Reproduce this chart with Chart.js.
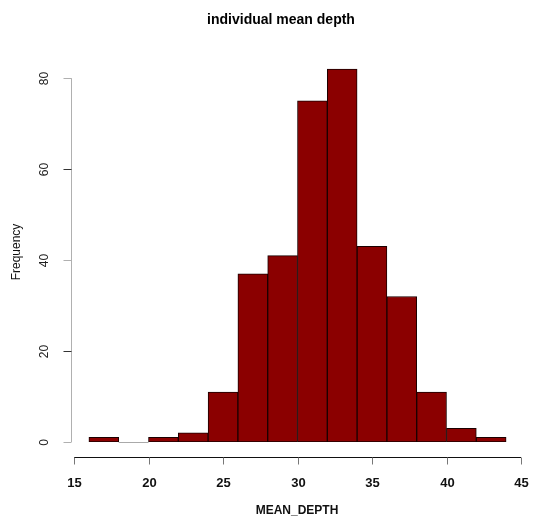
<!DOCTYPE html>
<html>
<head>
<meta charset="utf-8">
<script src="https://cdn.jsdelivr.net/npm/chart.js@4"></script>
<style>
  html, body { margin: 0; padding: 0; background: #fff; }
  #wrap { width: 554px; height: 519px; }
</style>
</head>
<body>
<div id="wrap"><canvas id="myChart" width="554" height="519"></canvas></div>
<script>
// histogram bins (width 2) and counts
const binStarts = [16, 18, 20, 22, 24, 26, 28, 30, 32, 34, 36, 38, 40, 42]
const counts = [1, 0, 1, 2, 11, 37, 41, 75, 82, 43, 32, 11, 3, 1]
const xTicks = [15, 20, 25, 30, 35, 40, 45]
const yTicks = [0, 20, 40, 60, 80]

const mainTitle = 'individual mean depth'
const xTitle = 'MEAN_DEPTH'
const yTitle = 'Frequency'

const barData = binStarts.map((b, i) => ({ x: b + 1, y: counts[i] }))

// R-style detached axes, drawn from the chart's own scales
const rAxes = {
    id: 'rAxes',
    afterDraw(chart) {
        const c = chart.ctx
        const xs = chart.scales.x
        const ys = chart.scales.y
        c.save()

        // zero-count bins get a baseline like R does
        const meta = chart.getDatasetMeta(0)
        c.strokeStyle = '#aaaaaa'
        c.lineWidth = 1
        meta.data.forEach((el, i) => {
            if (counts[i] === 0) {
                const y0 = Math.round(ys.getPixelForValue(0)) + 0.5
                c.beginPath()
                c.moveTo(el.x - el.width / 2, y0)
                c.lineTo(el.x + el.width / 2, y0)
                c.stroke()
            }
        })

        // y axis
        const ax = 71.5
        c.strokeStyle = '#b0b0b0'
        c.beginPath()
        c.moveTo(ax, ys.getPixelForValue(yTicks[0]))
        c.lineTo(ax, ys.getPixelForValue(yTicks[yTicks.length - 1]))
        c.stroke()
        c.fillStyle = '#222'
        c.font = '12px "Liberation Sans", Arial, sans-serif'
        c.textAlign = 'center'
        c.textBaseline = 'middle'
        yTicks.forEach(t => {
            const py = Math.round(ys.getPixelForValue(t)) + 0.5
            c.strokeStyle = (t === 20 || t === 60) ? '#333' : '#b0b0b0'
            c.beginPath()
            c.moveTo(ax, py)
            c.lineTo(ax - 8, py)
            c.stroke()
            c.save()
            c.translate(45, py)
            c.rotate(-Math.PI / 2)
            c.fillText(String(t), 0, 0)
            c.restore()
        })

        // x axis
        const ay = 457.5
        c.strokeStyle = '#111'
        c.beginPath()
        c.moveTo(xs.getPixelForValue(xTicks[0]), ay)
        c.lineTo(xs.getPixelForValue(xTicks[xTicks.length - 1]), ay)
        c.stroke()
        c.font = 'bold 13px "Liberation Sans", Arial, sans-serif'
        c.fillStyle = '#111'
        xTicks.forEach(t => {
            const px = Math.round(xs.getPixelForValue(t)) + 0.5
            c.strokeStyle = '#777'
            c.beginPath()
            c.moveTo(px, ay)
            c.lineTo(px, ay + 7)
            c.stroke()
            c.fillText(String(t), px, 483)
        })

        // titles
        c.font = 'bold 14px "Liberation Sans", Arial, sans-serif'
        c.fillStyle = '#000'
        c.fillText(mainTitle, 281, 20)
        c.font = 'bold 12px "Liberation Sans", Arial, sans-serif'
        c.fillStyle = '#111'
        c.fillText(xTitle, 297, 511)
        c.font = '12px "Liberation Sans", Arial, sans-serif'
        c.save()
        c.translate(17, 252)
        c.rotate(-Math.PI / 2)
        c.fillText(yTitle, 0, 0)
        c.restore()

        c.restore()
    }
}

const ctx = document.getElementById('myChart').getContext('2d')
const myChart = new Chart(ctx, {
    type: 'bar',
    data: {
        datasets: [{
            label: yTitle,
            data: barData,
            backgroundColor: '#8b0000',
            borderColor: '#1a0000',
            borderWidth: 1,
            borderSkipped: false,
            barPercentage: 1,
            categoryPercentage: 1
        }]
    },
    options: {
        responsive: false,
        animation: false,
        layout: { padding: { left: 74, right: 33, top: 60, bottom: 77 } },
        plugins: {
            legend: { display: false },
            tooltip: { enabled: false }
        },
        scales: {
            x: { type: 'linear', min: 15, max: 45, offset: false, display: false },
            y: { min: 0, max: 84, display: false }
        }
    },
    plugins: [rAxes]
})
</script>
</body>
</html>
